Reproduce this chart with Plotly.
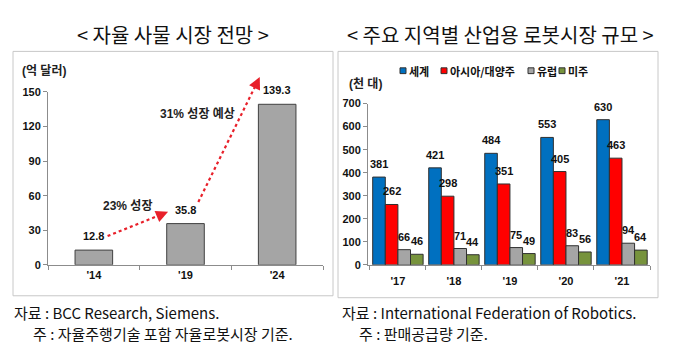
import plotly.graph_objects as go

# ---------------- data ----------------
left_years = ["'14", "'19", "'24"]
left_values = [12.8, 35.8, 139.3]
left_yticks = [0, 30, 60, 90, 120, 150]

right_years = ["'17", "'18", "'19", "'20", "'21"]
series_names = ["세계", "아시아/대양주", "유럽", "미주"]
world = [381, 421, 484, 553, 630]
asia = [262, 298, 351, 405, 463]
europe = [66, 71, 75, 83, 94]
america = [46, 44, 49, 56, 64]
right_yticks = [0, 100, 200, 300, 400, 500, 600, 700]

# ---------------- layout constants ----------------
W, H = 680, 352
KFONT = "Liberation Sans, Arial, Noto Sans CJK KR"
CJK = "Noto Sans CJK KR"
colors = ["#0070C0", "#FF0000", "#A5A5A5", "#77933C"]

def px(x):
    return x / W

def py(y):
    return 1 - y / H

def note(x, y, text, font, xanchor="center", yanchor="middle"):
    return dict(x=px(x), y=py(y), xref="paper", yref="paper", text=text,
                showarrow=False, xanchor=xanchor, yanchor=yanchor, font=font)

L_XD = [px(48), px(323)]
L_YD = [py(268), py(89)]
R_XD = [px(368), px(650)]
R_YD = [py(268), py(101)]

fig = go.Figure()

# left bars
fig.add_trace(go.Bar(
    x=left_years, y=left_values, width=0.41,
    marker=dict(color="#A5A5A5", line=dict(color="#404040", width=1)),
    xaxis="x", yaxis="y", showlegend=False, hoverinfo="skip"))

# right grouped bars
right_series = [world, asia, europe, america]
for name, vals, c in zip(series_names, right_series, colors):
    fig.add_trace(go.Bar(
        x=right_years, y=vals, name=name,
        marker=dict(color=c, line=dict(color="#303030", width=1)),
        xaxis="x2", yaxis="y2", showlegend=False, hoverinfo="skip"))

annotations = []
shapes = []

# value labels left
for i, v in enumerate(left_values):
    annotations.append(dict(x=i, y=v, xref="x", yref="y", text=f"<b>{v}</b>",
                            showarrow=False, xanchor="center", yanchor="bottom", yshift=6,
                            font=dict(family=KFONT, size=11, color="#111")))

# value labels right
n = len(series_names)
bargap = 0.1
bw = (1 - bargap) / n
for j, vals in enumerate(right_series):
    off = -(1 - bargap) / 2 + bw * (j + 0.5)
    for i, v in enumerate(vals):
        annotations.append(dict(x=i + off, y=v, xref="x2", yref="y2", text=f"<b>{v}</b>",
                                showarrow=False, xanchor="center", yanchor="bottom", yshift=5,
                                font=dict(family=KFONT, size=11, color="#111")))

# helper: left data -> paper
def lx(xi):
    return L_XD[0] + (xi + 0.5) / 3 * (L_XD[1] - L_XD[0])

def ly(v):
    return L_YD[0] + v / 150 * (L_YD[1] - L_YD[0])

arrows = [((0.15, 25), (0.81, 46)), ((1.14, 54.5), (1.81, 163))]
for (x0, y0), (x1, y1) in arrows:
    X0, Y0, X1, Y1 = lx(x0), ly(y0), lx(x1), ly(y1)
    dxp = (X1 - X0) * W
    dyp = -(Y1 - Y0) * H
    L = (dxp ** 2 + dyp ** 2) ** 0.5
    ux, uy = dxp / L, dyp / L
    Xe = X1 - ux * 6 / W
    Ye = Y1 + uy * 6 / H
    shapes.append(dict(type="line", xref="paper", yref="paper", x0=X0, y0=Y0, x1=Xe, y1=Ye,
                       line=dict(color="#E8202A", width=2.2, dash="dot")))
    annotations.append(dict(x=X1, y=Y1, xref="paper", yref="paper", text="",
                            showarrow=True, arrowhead=2, arrowsize=1.1, arrowwidth=2.2,
                            arrowcolor="#E8202A", ax=-ux * 10, ay=-uy * 10, standoff=0))

lab_font = dict(family=KFONT, size=12, color="#222")
annotations += [
    note(127, 207, "<b>23% 성장</b>", lab_font),
    note(197, 112, "<b>31% 성장 예상</b>", lab_font),
    note(20, 67, "<b>(억 달러)</b>", lab_font, xanchor="left"),
    note(347, 81, "<b>(천 대)</b>", lab_font, xanchor="left"),
]

# titles
title_font = dict(family=CJK, size=20, color="#111")
annotations += [
    note(173, 30, "< 자율 사물 시장 전망 >", title_font),
    note(500, 30, "< 주요 지역별 산업용 로봇시장 규모 >", title_font),
]

# manual legend
leg_sq = [400, 441, 528, 559]
leg_font = dict(family=CJK, size=11, color="#111")
for name, c, sx in zip(series_names, colors, leg_sq):
    shapes.append(dict(type="rect", xref="paper", yref="paper",
                       x0=px(sx), x1=px(sx + 6), y0=py(70), y1=py(64),
                       fillcolor=c, line=dict(color="#303030", width=1)))
    annotations.append(note(sx + 7, 67, f"<b>{name}</b>", leg_font, xanchor="left"))

# footnotes
foot_font = dict(family=CJK, size=15, color="#111")
annotations += [
    note(12, 317, "자료 : BCC Research, Siemens.", foot_font, xanchor="left"),
    note(31, 339, "주 : 자율주행기술 포함 자율로봇시장 기준.", foot_font, xanchor="left"),
    note(340, 317, "자료 : International Federation of Robotics.", foot_font, xanchor="left"),
    note(357, 339, "주 : 판매공급량 기준.", foot_font, xanchor="left"),
]

# boxes
shapes += [
    dict(type="rect", xref="paper", yref="paper", x0=px(13), x1=px(333), y0=py(300), y1=py(47),
         line=dict(color="#C8C8C8", width=1), layer="below"),
    dict(type="rect", xref="paper", yref="paper", x0=px(338), x1=px(658), y0=py(302), y1=py(47),
         line=dict(color="#C8C8C8", width=1), layer="below"),
]

axis_common = dict(showgrid=False, zeroline=False, showline=True, linecolor="#8C8C8C",
                   linewidth=1, ticks="outside", ticklen=4, tickcolor="#8C8C8C",
                   tickfont=dict(family=KFONT, size=11, color="#111"))

fig.update_layout(
    width=W, height=H, margin=dict(l=0, r=0, t=0, b=0),
    paper_bgcolor="white", plot_bgcolor="rgba(0,0,0,0)",
    barmode="group", bargap=bargap, bargroupgap=0,
    xaxis=dict(domain=L_XD, anchor="y", type="category", tickson="boundaries",
               tickvals=left_years, ticktext=[f"<b>{t}</b>" for t in left_years], **axis_common),
    yaxis=dict(domain=L_YD, anchor="x", range=[0, 150], tickvals=left_yticks,
               ticktext=[f"<b>{t}</b>" for t in left_yticks], **axis_common),
    xaxis2=dict(domain=R_XD, anchor="y2", type="category", tickson="boundaries",
                tickvals=right_years, ticktext=[f"<b>{t}</b>" for t in right_years],
                ticklabelstandoff=6, **axis_common),
    yaxis2=dict(domain=R_YD, anchor="x2", range=[0, 700], tickvals=right_yticks,
                ticktext=[f"<b>{t}</b>" for t in right_yticks], **axis_common),
    annotations=annotations, shapes=shapes,
)

fig.write_html("out.html")
